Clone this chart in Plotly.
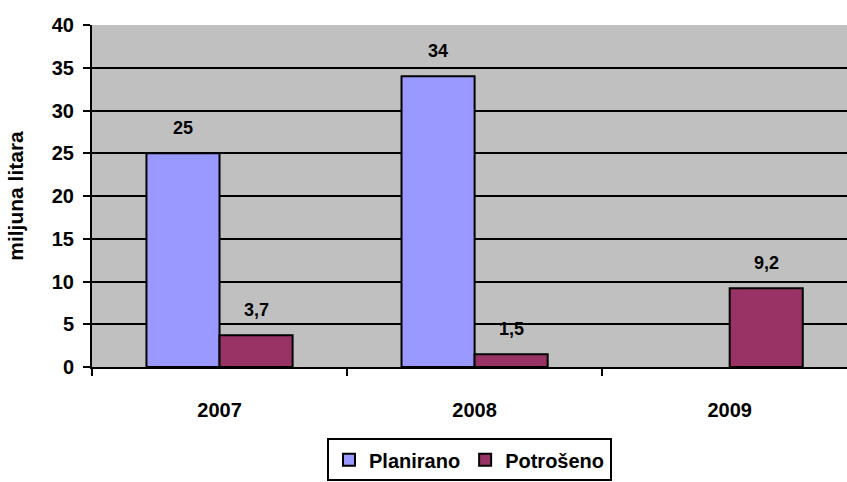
import plotly.graph_objects as go

years = ["2007", "2008", "2009"]
planirano = [25, 34, None]
potroseno = [3.7, 1.5, 9.2]
planirano_txt = ["25", "34", ""]
potroseno_txt = ["3,7", "1,5", "9,2"]

FONT = "Arial, Liberation Sans, sans-serif"

fig = go.Figure()
fig.add_trace(go.Bar(x=years, y=planirano, name="<b>Planirano</b>",
                     marker=dict(color="#9999FF", line=dict(color="black", width=2))))
fig.add_trace(go.Bar(x=years, y=potroseno, name="<b>Potrošeno</b>",
                     marker=dict(color="#993366", line=dict(color="black", width=2))))

# data labels sit well above the bars, as in the original
for i, (y, t) in enumerate(zip(planirano, planirano_txt)):
    if y is not None:
        fig.add_annotation(x=i - 0.143, y=y, text="<b>" + t + "</b>", showarrow=False,
                           yshift=25, font=dict(size=18, family=FONT, color="black"))
for i, (y, t) in enumerate(zip(potroseno, potroseno_txt)):
    fig.add_annotation(x=i + 0.143, y=y, text="<b>" + t + "</b>", showarrow=False,
                       yshift=25, font=dict(size=18, family=FONT, color="black"))

fig.update_layout(
    width=847, height=482,
    margin=dict(l=92, r=0, t=25, b=115),
    plot_bgcolor="#C0C0C0", paper_bgcolor="white",
    barmode="group", bargap=0.427, bargroupgap=0,
    font=dict(family=FONT, size=20, color="black"),
    showlegend=True,
    legend=dict(orientation="h", x=0.5, xanchor="center", y=-0.334, yanchor="bottom",
                bordercolor="black", borderwidth=2,
                font=dict(size=20, family=FONT, color="black"),
                itemwidth=30, tracegroupgap=0),
)
# the original chart is cut at the right edge, part of the last category is off-canvas
fig.update_xaxes(type="category", range=[-0.5, 2.46], showline=True, linecolor="black",
                 linewidth=2, ticks="outside", tickson="boundaries", ticklen=7, tickwidth=2,
                 tickcolor="black", tickfont=dict(size=20, family=FONT),
                 tickprefix="<b>", ticksuffix="</b>",
                 ticklabelstandoff=24, showgrid=False, automargin=False)
fig.update_yaxes(range=[0, 40], dtick=5, showline=True, linecolor="black", linewidth=2,
                 ticks="outside", ticklen=7, tickwidth=2, tickcolor="black",
                 gridcolor="black", gridwidth=2, zeroline=False,
                 tickfont=dict(size=20, family=FONT), ticklabelstandoff=5,
                 tickprefix="<b>", ticksuffix="</b>", automargin=False,
                 title=dict(text="<b>miljuna litara</b>", font=dict(size=21, family=FONT),
                            standoff=22))

fig.write_html("out.html", config={"displayModeBar": False},
               post_script="document.body.style.margin='0';")
